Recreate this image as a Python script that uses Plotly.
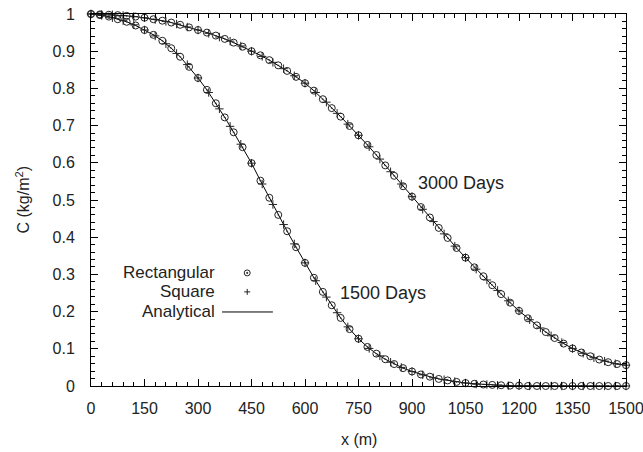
import plotly.graph_objects as go

# ---------------- data ----------------
# Rectangular mesh nodes / analytical curve sampled every 25 m
x_rect = [i * 25 for i in range(61)]
c1500_rect = [1.000, 0.997, 0.993, 0.986, 0.979, 0.969, 0.957, 0.944, 0.928, 0.908,
              0.885, 0.858, 0.828, 0.796, 0.760, 0.722, 0.682, 0.642, 0.599, 0.552,
              0.506, 0.460, 0.416, 0.373, 0.331, 0.291, 0.253, 0.217, 0.183, 0.153,
              0.127, 0.105, 0.087, 0.072, 0.059, 0.048, 0.039, 0.031, 0.025, 0.019,
              0.015, 0.011, 0.008, 0.006, 0.004, 0.003, 0.002, 0.001, 0.001, 0.000,
              0.000, 0.000, 0.000, 0.000, 0.000, 0.000, 0.000, 0.000, 0.000, 0.000,
              0.000]
c3000_rect = [1.000, 0.999, 0.998, 0.997, 0.995, 0.993, 0.990, 0.986, 0.982, 0.977,
              0.971, 0.964, 0.957, 0.950, 0.942, 0.933, 0.923, 0.912, 0.900, 0.889,
              0.876, 0.862, 0.847, 0.831, 0.814, 0.794, 0.771, 0.747, 0.724, 0.699,
              0.674, 0.648, 0.621, 0.593, 0.565, 0.537, 0.509, 0.481, 0.453, 0.425,
              0.398, 0.371, 0.345, 0.319, 0.295, 0.271, 0.247, 0.224, 0.202, 0.182,
              0.163, 0.145, 0.129, 0.114, 0.101, 0.090, 0.080, 0.071, 0.064, 0.059,
              0.056]

# Square mesh nodes every 30 m
x_sq = [i * 30 for i in range(51)]
c1500_sq = [1.000, 0.996, 0.990, 0.982, 0.971, 0.957, 0.941, 0.920, 0.894, 0.864,
            0.828, 0.789, 0.745, 0.698, 0.650, 0.599, 0.543, 0.488, 0.434, 0.382,
            0.331, 0.283, 0.239, 0.197, 0.159, 0.127, 0.101, 0.081, 0.064, 0.050,
            0.039, 0.030, 0.022, 0.017, 0.012, 0.008, 0.005, 0.004, 0.002, 0.001,
            0.001, 0.000, 0.000, 0.000, 0.000, 0.000, 0.000, 0.000, 0.000, 0.000,
            0.000]
c3000_sq = [1.000, 0.999, 0.998, 0.996, 0.993, 0.990, 0.985, 0.980, 0.973, 0.965,
            0.957, 0.948, 0.938, 0.927, 0.914, 0.900, 0.886, 0.870, 0.853, 0.834,
            0.814, 0.789, 0.763, 0.733, 0.704, 0.674, 0.643, 0.610, 0.576, 0.543,
            0.509, 0.475, 0.442, 0.409, 0.376, 0.345, 0.314, 0.285, 0.257, 0.229,
            0.202, 0.178, 0.156, 0.135, 0.117, 0.101, 0.088, 0.076, 0.067, 0.060,
            0.056]

x_ticks = [0, 150, 300, 450, 600, 750, 900, 1050, 1200, 1350, 1500]
y_ticks = [0, 0.1, 0.2, 0.3, 0.4, 0.5, 0.6, 0.7, 0.8, 0.9, 1]
curve_labels = [("3000 Days", 1036, 0.545), ("1500 Days", 818, 0.25)]
legend_labels = ["Rectangular", "Square", "Analytical"]
x_title = "x (m)"
y_title = "C (kg/m<sup>2</sup>)"

# ---------------- figure ----------------
FONT = "Liberation Sans, Arial, Helvetica, sans-serif"
INK = "#222222"
TXT = 16
fig = go.Figure()

for c_line in (c1500_rect, c3000_rect):
    fig.add_trace(go.Scatter(x=x_rect, y=c_line, mode="lines",
                             line=dict(color="black", width=1),
                             showlegend=False, cliponaxis=False, hoverinfo="skip"))
for c_sq in (c1500_sq, c3000_sq):
    fig.add_trace(go.Scatter(x=x_sq, y=c_sq, mode="markers",
                             marker=dict(symbol="cross-thin-open", size=6, color=INK,
                                         line=dict(color=INK, width=1)),
                             showlegend=False, cliponaxis=False))
for c_r in (c1500_rect, c3000_rect):
    fig.add_trace(go.Scatter(x=x_rect, y=c_r, mode="markers",
                             marker=dict(symbol="circle-open-dot", size=7,
                                         color=INK,
                                         line=dict(color=INK, width=1)),
                             showlegend=False, cliponaxis=False))

axis_common = dict(showline=True, linecolor="black", linewidth=1, mirror="allticks",
                   ticks="inside", ticklen=7, tickwidth=1, tickcolor="black",
                   showgrid=False, zeroline=False, automargin=False,
                   ticklabeloverflow="allow",
                   tickfont=dict(family=FONT, size=TXT, color=INK))
fig.update_xaxes(range=[0, 1500], tickvals=x_ticks, ticklabelstandoff=8,
                 minor=dict(dtick=30, ticks="inside", ticklen=4, tickcolor="black",
                            showgrid=False),
                 **axis_common)
fig.update_yaxes(range=[0, 1], tickvals=y_ticks, ticklabelstandoff=12,
                 minor=dict(dtick=0.02, ticks="inside", ticklen=4, tickcolor="black",
                            showgrid=False),
                 **axis_common)

# axis titles
fig.add_annotation(x=0.5, y=-0.145, xref="paper", yref="paper", text=x_title,
                   showarrow=False, yanchor="middle",
                   font=dict(family=FONT, size=TXT, color=INK))
fig.add_annotation(x=-0.128, y=0.5, xref="paper", yref="paper", text=y_title,
                   showarrow=False, textangle=-90, xanchor="center", yanchor="middle",
                   font=dict(family=FONT, size=TXT, color=INK))

for txt, xv, yv in curve_labels:
    fig.add_annotation(x=xv, y=yv, xref="x", yref="y", text=txt, showarrow=False,
                       xanchor="center", yanchor="middle",
                       font=dict(family=FONT, size=18, color=INK))

# custom gnuplot-like key: text right-aligned, sample at right
rows_y = [0.304, 0.253, 0.199]
for txt, yy in zip(legend_labels, rows_y):
    fig.add_annotation(x=0.235, y=yy, xref="paper", yref="paper", text=txt,
                       showarrow=False, xanchor="right", yanchor="middle",
                       font=dict(family=FONT, size=17, color=INK))
# circle-dot sample
fig.add_shape(type="circle", xref="paper", yref="paper",
              x0=0.292 - 0.0056, x1=0.292 + 0.0056,
              y0=rows_y[0] - 0.008, y1=rows_y[0] + 0.008,
              line=dict(color=INK, width=1))
fig.add_shape(type="circle", xref="paper", yref="paper",
              x0=0.292 - 0.0012, x1=0.292 + 0.0012,
              y0=rows_y[0] - 0.0017, y1=rows_y[0] + 0.0017,
              line=dict(color=INK, width=1), fillcolor=INK)
# plus sample
fig.add_shape(type="line", xref="paper", yref="paper",
              x0=0.292 - 0.0056, x1=0.292 + 0.0056, y0=rows_y[1], y1=rows_y[1],
              line=dict(color=INK, width=1))
fig.add_shape(type="line", xref="paper", yref="paper",
              x0=0.292, x1=0.292, y0=rows_y[1] - 0.008, y1=rows_y[1] + 0.008,
              line=dict(color=INK, width=1))
# line sample
fig.add_shape(type="line", xref="paper", yref="paper",
              x0=0.245, x1=0.340, y0=rows_y[2], y1=rows_y[2],
              line=dict(color="black", width=1))

fig.update_layout(width=643, height=452,
                  margin=dict(l=91, r=17, t=14, b=66),
                  paper_bgcolor="white", plot_bgcolor="white",
                  font=dict(family=FONT, size=TXT, color=INK))

fig.write_html("out.html",
               config={"displayModeBar": False},
               post_script="document.body.style.margin='0';"
                           "document.body.style.padding='0';"
                           "document.body.style.overflow='hidden';")
